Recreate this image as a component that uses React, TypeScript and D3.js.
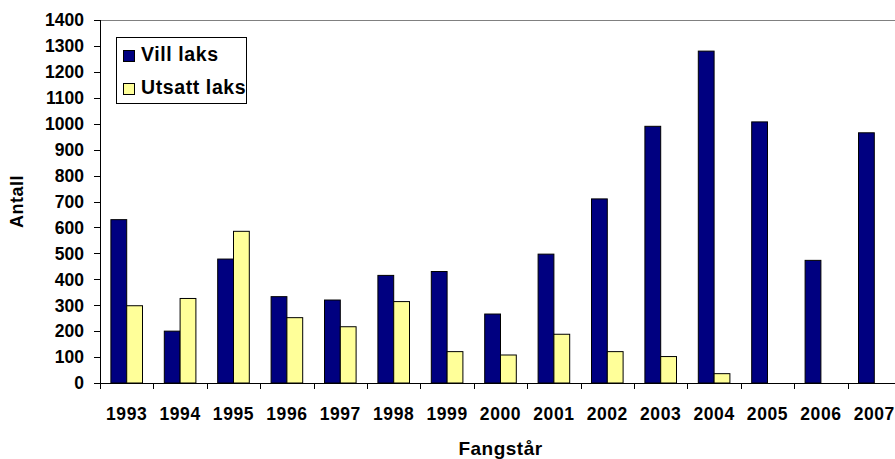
import React from "react";
import * as d3 from "d3";

const years = ["1993","1994","1995","1996","1997","1998","1999","2000","2001","2002","2003","2004","2005","2006","2007"];
const villLaks = [630, 200, 478, 333, 320, 415, 430, 266, 497, 710, 990, 1280, 1007, 473, 965];
const utsattLaks = [298, 326, 585, 252, 217, 314, 121, 108, 188, 121, 102, 36, 0, 0, 0];
const yTicks = [0,100,200,300,400,500,600,700,800,900,1000,1100,1200,1300,1400];
const seriesNames = ["Vill laks", "Utsatt laks"];
const seriesColors = ["#000080", "#FFFF99"];

const W = 895, H = 459;
const left = 100, right = 901, top = 20, bottom = 383;
const FONT = "'Liberation Sans', Arial, sans-serif";

export default function App() {
  const x = d3.scaleBand<string>().domain(years).range([left, right]).paddingInner(0).paddingOuter(0);
  const x1 = d3.scaleBand<string>().domain(seriesNames).range([0, x.bandwidth()]).paddingInner(0).paddingOuter(0.69);
  const y = d3.scaleLinear().domain([0, 1400]).range([bottom, top]);
  const data = [villLaks, utsattLaks];
  return (
    <svg width={W} height={H} style={{ display: "block", position: "absolute", left: 0, top: 0 }} fontFamily={FONT}>
      <rect x={0} y={0} width={W} height={H} fill="#fff" />
      <line x1={left} x2={W} y1={top + 0.5} y2={top + 0.5} stroke="#808080" strokeWidth={1} />
      {data.map((vals, si) =>
        years.map((yr, i) =>
          vals[i] > 0 ? (
            <rect key={`${si}-${yr}`} x={(x(yr) as number) + (x1(seriesNames[si]) as number)} y={y(vals[i])}
              width={x1.bandwidth()} height={bottom - y(vals[i])} fill={seriesColors[si]} stroke="#000" strokeWidth={1} />
          ) : null
        )
      )}
      <line x1={left + 0.5} x2={left + 0.5} y1={top} y2={bottom} stroke="#000" />
      <line x1={left} x2={W} y1={bottom + 0.5} y2={bottom + 0.5} stroke="#000" />
      {yTicks.map(t => (
        <g key={t}>
          <line x1={left - 6} x2={left} y1={Math.round(y(t)) + 0.5} y2={Math.round(y(t)) + 0.5} stroke="#000" />
          <text x={84} y={y(t)} dy="0.36em" textAnchor="end" fontSize={17.5} fontWeight="bold">{t}</text>
        </g>
      ))}
      {years.map((yr, i) => (
        <g key={yr}>
          <line x1={Math.round(x(yr) as number) + 0.5} x2={Math.round(x(yr) as number) + 0.5} y1={bottom} y2={bottom + 6} stroke="#000" />
          <text x={(x(yr) as number) + x.bandwidth() / 2} y={420} textAnchor="middle" fontSize={17.5} fontWeight="bold" letterSpacing={0.6}>{yr}</text>
        </g>
      ))}
      <text transform={`translate(23,${(top + bottom) / 2}) rotate(-90)`} textAnchor="middle" fontSize={18} fontWeight="bold" letterSpacing={0.5}>Antall</text>
      <text x={(left + right) / 2} y={455} textAnchor="middle" fontSize={19} fontWeight="bold" letterSpacing={0.5}>Fangstår</text>
      <g>
        <rect x={116.5} y={37.5} width={130} height={66} fill="#fff" stroke="#000" />
        {seriesNames.map((s, i) => (
          <g key={s}>
            <rect x={123.5} y={50.5 + i * 33} width={11} height={11} fill={seriesColors[i]} stroke="#000" />
            <text x={141} y={61 + i * 33} fontSize={19.5} fontWeight="bold" letterSpacing={0.6}>{s}</text>
          </g>
        ))}
      </g>
    </svg>
  );
}
